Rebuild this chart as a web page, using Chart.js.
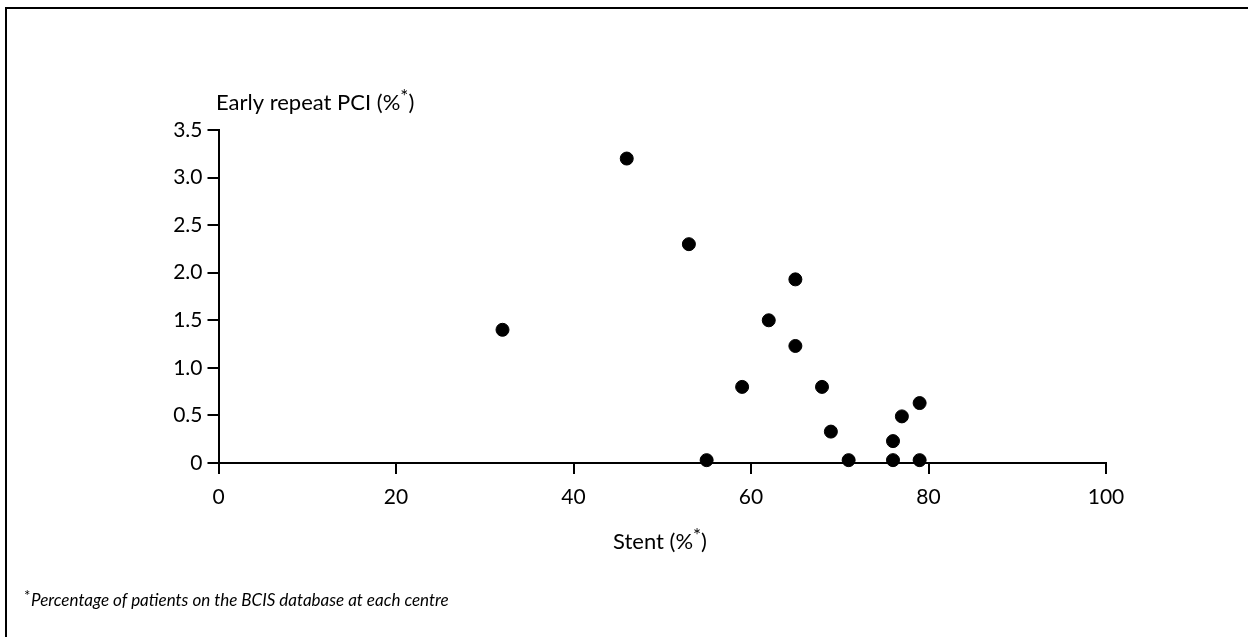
<!DOCTYPE html>
<html>
<head>
<meta charset="utf-8">
<script src="https://cdn.jsdelivr.net/npm/chart.js@4.4.1/dist/chart.umd.min.js"></script>
<style>
  html, body { margin: 0; padding: 0; background: #fff; }
  #wrap { position: relative; width: 1248px; height: 637px; overflow: hidden; }
  #frame { position: absolute; left: 5px; top: 7px; right: -5px; bottom: -5px;
           border-top: 2px solid #000; border-left: 2px solid #000; pointer-events: none; }
  canvas { position: absolute; left: 0; top: 0; }
</style>
</head>
<body>
<div id="wrap">
  <canvas id="c" width="1248" height="637"></canvas>
  <div id="frame"></div>
</div>
<script>
// Data
const stentPct = [32, 46, 53, 55, 59, 62, 65, 65, 68, 69, 71, 76, 76, 77, 79, 79];
const repeatPct = [1.4, 3.2, 2.3, 0.03, 0.8, 1.5, 1.93, 1.23, 0.8, 0.33, 0.03, 0.03, 0.23, 0.49, 0.03, 0.63];
const xTicks = [0, 20, 40, 60, 80, 100];
const yTicks = [0, 0.5, 1.0, 1.5, 2.0, 2.5, 3.0, 3.5];
const yTitle = "Early repeat PCI (%";
const xTitle = "Stent (%";
const footnote = "Percentage of patients on the BCIS database at each centre";

const FONT = "Lato, 'Open Sans', sans-serif";

const points = stentPct.map((x, i) => ({ x: x, y: repeatPct[i] }));

function drawWithStar(ctx, text, x, y, size, align) {
  const ss = Math.round(size * 0.85);
  ctx.font = size + "px " + FONT;
  const w1 = ctx.measureText(text).width;
  ctx.font = ss + "px " + FONT;
  const ws = ctx.measureText("*").width;
  ctx.font = size + "px " + FONT;
  const w2 = ctx.measureText(")").width;
  const total = w1 + ws + w2;
  let sx = align === 'center' ? x - total / 2 : x;
  ctx.textAlign = 'left';
  ctx.textBaseline = 'alphabetic';
  ctx.fillText(text, sx, y);
  ctx.font = ss + "px " + FONT;
  ctx.fillText("*", sx + w1, y - size * 0.3);
  ctx.font = size + "px " + FONT;
  ctx.fillText(")", sx + w1 + ws, y);
}

const textPlugin = {
  id: 'texts',
  afterDraw(chart) {
    const ctx = chart.ctx;
    ctx.save();
    ctx.fillStyle = '#000';
    drawWithStar(ctx, yTitle, 216, 110, 22, 'left');
    drawWithStar(ctx, xTitle, 660, 549, 22, 'center');
    // footnote
    ctx.textAlign = 'left';
    ctx.font = "15px " + FONT;
    ctx.fillText("*", 24, 601);
    ctx.font = "italic 17px " + FONT;
    ctx.fillText(footnote, 31, 606);
    ctx.restore();
  }
};

new Chart(document.getElementById('c'), {
  type: 'scatter',
  data: {
    datasets: [{
      data: points,
      backgroundColor: '#000',
      borderColor: '#000',
      pointRadius: 6.5,
      pointHoverRadius: 6.5,
      clip: false
    }]
  },
  options: {
    responsive: false,
    animation: false,
    events: [],
    layout: { padding: { left: 0, right: 1248 - 1106, top: 130, bottom: 0 } },
    plugins: { legend: { display: false }, tooltip: { enabled: false } },
    scales: {
      x: {
        type: 'linear',
        min: 0, max: 100,
        afterBuildTicks(scale) { scale.ticks = xTicks.map(v => ({ value: v })); },
        afterFit(scale) { scale.height = 637 - 463; },
        grid: { display: true, drawOnChartArea: false, drawTicks: true, tickLength: 11, color: '#000', lineWidth: 2 },
        border: { display: true, color: '#000', width: 2 },
        ticks: { color: '#000', font: { family: FONT, size: 21 }, padding: 11, maxRotation: 0,
                 callback: v => String(v) }
      },
      y: {
        type: 'linear',
        min: 0, max: 3.5,
        afterBuildTicks(scale) { scale.ticks = yTicks.map(v => ({ value: v })); },
        afterFit(scale) { scale.width = 218.5; },
        grid: { display: true, drawOnChartArea: false, drawTicks: true, tickLength: 11, color: '#000', lineWidth: 2 },
        border: { display: true, color: '#000', width: 2 },
        ticks: { color: '#000', font: { family: FONT, size: 21 }, padding: 5,
                 callback: v => v === 0 ? '0' : Number(v).toFixed(1) }
      }
    }
  },
  plugins: [textPlugin]
});
</script>
</body>
</html>
